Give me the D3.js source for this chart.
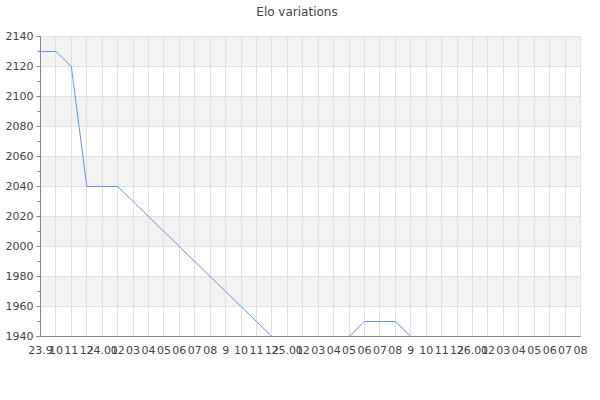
<!DOCTYPE html>
<html>
<head>
<meta charset="utf-8">
<script src="https://cdn.jsdelivr.net/npm/d3@7"></script>
<style>
  html, body { margin: 0; padding: 0; background: #fff; }
  svg { display: block; font-family: "DejaVu Sans", sans-serif; }
</style>
</head>
<body>
<svg id="chart" width="600" height="400"></svg>
<script>
// ---- data ----
const title = "Elo variations";
const monthLabels = ["23.9","10","11","12","24.01","02","03","04","05","06","07","08","9","10","11","12",
  "25.01","02","03","04","05","06","07","08","9","10","11","12","26.01","02","03","04","05","06","07","08"];
const eloValues = [2130, 2130, 2120, 2040, 2040, 2040, 2030, 2020, 2010, 2000, 1990, 1980, 1970, 1960, 1950, 1940,
  1940, 1940, 1940, 1940, 1940, 1950, 1950, 1950, 1940];
const yTicks = [1940, 1960, 1980, 2000, 2020, 2040, 2060, 2080, 2100, 2120, 2140];
const yMinorTicks = [1950, 1970, 1990, 2010, 2030, 2050, 2070, 2090, 2110, 2130];
const bands = [[1960, 1980], [2000, 2020], [2040, 2060], [2080, 2100], [2120, 2140]];

// ---- layout ----
const margin = { left: 40, right: 20, top: 36.5, bottom: 63.5 };
const W = 600, H = 400;
const svg = d3.select("#chart");

const x = d3.scaleLinear().domain([0, monthLabels.length - 1]).range([margin.left, W - margin.right]);
const y = d3.scaleLinear().domain([1940, 2140]).range([H - margin.bottom, margin.top]);

// bands
svg.append("g").selectAll("rect").data(bands).join("rect")
  .attr("x", x(0)).attr("width", x(monthLabels.length - 1) - x(0))
  .attr("y", d => y(d[1])).attr("height", d => y(d[0]) - y(d[1]))
  .attr("fill", "#f2f2f2");

// horizontal gridlines
svg.append("g").selectAll("line").data(yTicks).join("line")
  .attr("x1", x(0)).attr("x2", x(monthLabels.length - 1))
  .attr("y1", d => Math.round(y(d) - 0.5) + 0.5).attr("y2", d => Math.round(y(d) - 0.5) + 0.5)
  .attr("stroke", "#e0e0e0").attr("stroke-width", 1);

// vertical gridlines
svg.append("g").selectAll("line").data(d3.range(monthLabels.length)).join("line")
  .attr("x1", d => Math.round(x(d)) + 0.5).attr("x2", d => Math.round(x(d)) + 0.5)
  .attr("y1", y(2140)).attr("y2", y(1940))
  .attr("stroke", "#e0e0e0").attr("stroke-width", 1);

// line
const line = d3.line().x((d, i) => x(i) + 0.5).y(d => y(d));
svg.append("path").datum(eloValues)
  .attr("d", line).attr("fill", "none")
  .attr("stroke", "#6495ED").attr("stroke-width", 1);

// y axis
const yAxis = d3.axisLeft(y).tickValues(yTicks).tickSize(4).tickPadding(3).tickFormat(d3.format("d")).offset(0);
const gy = svg.append("g").attr("transform", `translate(${margin.left + 0.5},0)`).call(yAxis);
gy.select(".domain").attr("stroke", "#888");
gy.selectAll(".tick line").attr("stroke", "#888");
gy.selectAll("text").attr("fill", "#444").style("font-size", "11px").style("font-family", "DejaVu Sans");
gy.append("g").selectAll("line").data(yMinorTicks).join("line")
  .attr("x1", -3).attr("x2", 0)
  .attr("y1", d => y(d)).attr("y2", d => y(d))
  .attr("stroke", "#888");

// x axis (drawn over the line so the 1940 segments are hidden by it)
const xAxis = d3.axisBottom(x).tickValues(d3.range(monthLabels.length)).tickSize(0).tickPadding(10)
  .tickFormat(i => monthLabels[i]).offset(0);
const gx = svg.append("g").attr("transform", `translate(0.5,${y(1940)})`).call(xAxis);
gx.select(".domain").attr("stroke", "#888").attr("stroke-width", 1.2);
gx.selectAll("text").attr("fill", "#444").style("font-size", "11px").style("font-family", "DejaVu Sans");

// title
svg.append("text").attr("x", 297).attr("y", 16).attr("text-anchor", "middle")
  .attr("fill", "#444").style("font-size", "12px").text(title);
</script>
</body>
</html>
